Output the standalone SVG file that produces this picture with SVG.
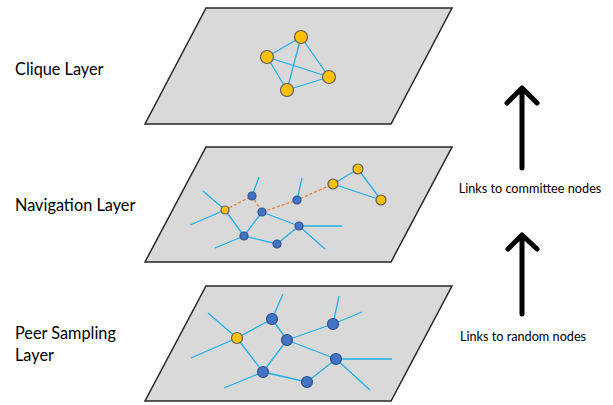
<svg xmlns="http://www.w3.org/2000/svg" width="613" height="405" viewBox="0 0 613 405">
<style>
.plane{fill:#d9d9d9;stroke:#262626;stroke-width:1.5}
.e{stroke:#1fb0e8;stroke-width:1.3;fill:none}
.d{stroke:#ed7d31;stroke-width:1.3;stroke-dasharray:3 2;fill:none}
.y{fill:#ffc000;stroke:#5e5e5e;stroke-width:1.2}
.b{fill:#4472c4;stroke:#2f528f;stroke-width:1.2}
.lbl{font-family:Lato,"Liberation Sans",sans-serif;font-size:16.3px;fill:#000}
.sm{font-family:Lato,"Liberation Sans",sans-serif;font-size:12.7px;fill:#000;text-anchor:middle}
.arr{stroke:#000;stroke-width:5;stroke-linecap:round;stroke-linejoin:round;fill:none}
</style>
<g id="planes">
<polygon class="plane" points="206,8 452,8 391,124 145,124"/>
<polygon class="plane" points="206,147 452,147 391,262 145,262"/>
<polygon class="plane" points="206,286 452,286 391,401 145,401"/>
</g>
<g id="connectors">
<line class="e" x1="301" y1="37" x2="267" y2="57"/>
<line class="e" x1="301" y1="37" x2="329" y2="77"/>
<line class="e" x1="301" y1="37" x2="287" y2="90"/>
<line class="e" x1="267" y1="57" x2="329" y2="77"/>
<line class="e" x1="267" y1="57" x2="287" y2="90"/>
<line class="e" x1="287" y1="90" x2="329" y2="77"/>
<line class="e" x1="358" y1="169" x2="333" y2="184"/>
<line class="e" x1="358" y1="169" x2="381" y2="200"/>
<line class="e" x1="333" y1="184" x2="381" y2="200"/>
<line class="e" x1="225" y1="210" x2="203" y2="191"/>
<line class="e" x1="225" y1="210" x2="190" y2="225"/>
<line class="e" x1="225" y1="210" x2="244" y2="236"/>
<line class="e" x1="252" y1="196" x2="259" y2="177"/>
<line class="e" x1="297" y1="200" x2="302" y2="178"/>
<line class="e" x1="262" y1="212" x2="244" y2="236"/>
<line class="e" x1="262" y1="212" x2="299" y2="226"/>
<line class="e" x1="244" y1="236" x2="215" y2="248"/>
<line class="e" x1="244" y1="236" x2="277" y2="244"/>
<line class="e" x1="277" y1="244" x2="299" y2="226"/>
<line class="e" x1="299" y1="226" x2="342" y2="226"/>
<line class="e" x1="299" y1="226" x2="325" y2="249"/>
<polyline class="d" points="225,210 252,196 262,212 297,200 333,184"/>
<line class="e" x1="237" y1="338" x2="208" y2="313"/>
<line class="e" x1="237" y1="338" x2="191" y2="358"/>
<line class="e" x1="237" y1="338" x2="272" y2="319"/>
<line class="e" x1="237" y1="338" x2="263" y2="372"/>
<line class="e" x1="272" y1="319" x2="283" y2="294"/>
<line class="e" x1="272" y1="319" x2="287" y2="340"/>
<line class="e" x1="287" y1="340" x2="333" y2="324"/>
<line class="e" x1="287" y1="340" x2="336" y2="359"/>
<line class="e" x1="287" y1="340" x2="263" y2="372"/>
<line class="e" x1="333" y1="324" x2="339" y2="296"/>
<line class="e" x1="333" y1="324" x2="362" y2="312"/>
<line class="e" x1="336" y1="359" x2="392" y2="359"/>
<line class="e" x1="336" y1="359" x2="370" y2="390"/>
<line class="e" x1="336" y1="359" x2="307" y2="382"/>
<line class="e" x1="263" y1="372" x2="307" y2="382"/>
<line class="e" x1="263" y1="372" x2="224" y2="388"/>
</g>
<g id="clique-nodes">
<circle class="y" cx="301" cy="37" r="6.5"/>
<circle class="y" cx="267" cy="57" r="6.5"/>
<circle class="y" cx="329" cy="77" r="6.5"/>
<circle class="y" cx="287" cy="90" r="6.5"/>
</g>
<g id="navigation-nodes">
<circle class="y" cx="358" cy="169" r="5"/>
<circle class="y" cx="333" cy="184" r="5"/>
<circle class="y" cx="381" cy="200" r="5"/>
<circle class="y" cx="225" cy="210" r="4"/>
<circle class="b" cx="252" cy="196" r="4"/>
<circle class="b" cx="297" cy="200" r="4"/>
<circle class="b" cx="262" cy="212" r="4"/>
<circle class="b" cx="299" cy="226" r="4"/>
<circle class="b" cx="244" cy="236" r="4"/>
<circle class="b" cx="277" cy="244" r="4"/>
</g>
<g id="peer-nodes">
<circle class="y" cx="237" cy="338" r="5.5"/>
<circle class="b" cx="272" cy="319" r="5.5"/>
<circle class="b" cx="287" cy="340" r="5.5"/>
<circle class="b" cx="333" cy="324" r="5.5"/>
<circle class="b" cx="336" cy="359" r="5.5"/>
<circle class="b" cx="263" cy="372" r="5.5"/>
<circle class="b" cx="307" cy="382" r="5.5"/>
</g>
<g id="labels">
<text class="lbl" x="15" y="75">Clique Layer</text>
<text class="lbl" x="15" y="211">Navigation Layer</text>
<text class="lbl" x="15" y="339">Peer Sampling</text>
<text class="lbl" x="15" y="361">Layer</text>
</g>
<g id="arrow-committee">
<path class="arr" d="M522,168 L522,89 M507,103 L522,88 L537,103"/>
<text class="sm" x="530" y="193">Links to committee nodes</text>
</g>
<g id="arrow-random">
<path class="arr" d="M522,314 L522,235 M508,249 L522,235 L537,249"/>
<text class="sm" x="523" y="341">Links to random nodes</text>
</g>
</svg>
